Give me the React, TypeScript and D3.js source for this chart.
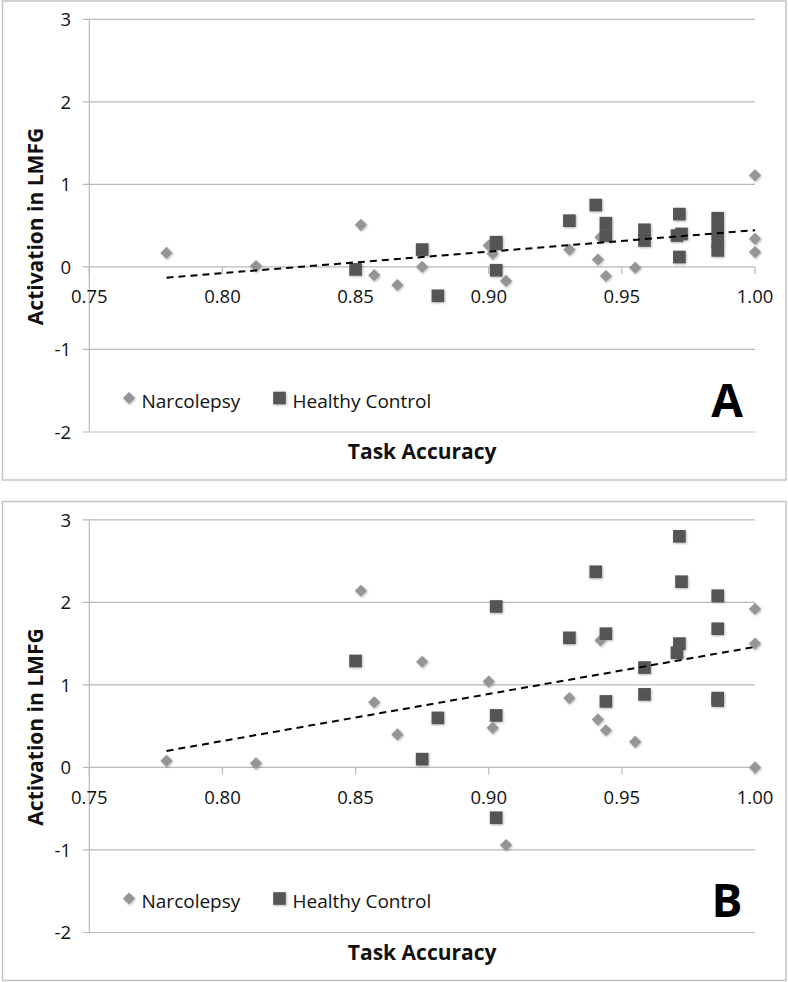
import React from "react";
import * as d3 from "d3";

// Task accuracy (shared by both panels)
const narcX = [0.779, 0.8126, 0.852, 0.857, 0.8657, 0.875, 0.9, 0.9015, 0.9065, 0.9303, 0.941, 0.942, 0.944, 0.955, 1.0, 1.0, 1.0];
const ctrlX = [0.85, 0.875, 0.8809, 0.9028, 0.9028, 0.9028, 0.9303, 0.9402, 0.944, 0.944, 0.9585, 0.9585, 0.9716, 0.9724, 0.9707, 0.9716, 0.986, 0.986, 0.986, 0.986];

// Panel A activation
const narcA = [0.17, 0.01, 0.51, -0.1, -0.22, 0.0, 0.26, 0.16, -0.17, 0.21, 0.09, 0.36, -0.11, -0.01, 1.11, 0.34, 0.18];
const ctrlA = [-0.03, 0.21, -0.35, 0.3, 0.28, -0.04, 0.56, 0.75, 0.53, 0.38, 0.45, 0.32, 0.64, 0.4, 0.38, 0.12, 0.59, 0.45, 0.3, 0.2];

// Panel B activation
const narcB = [0.08, 0.05, 2.14, 0.79, 0.4, 1.28, 1.04, 0.48, -0.94, 0.84, 0.58, 1.54, 0.45, 0.31, 1.92, 1.5, 0.0];
const ctrlB = [1.29, 0.1, 0.6, 1.95, 0.63, -0.61, 1.57, 2.37, 1.62, 0.8, 1.21, 0.885, 2.8, 2.25, 1.39, 1.5, 2.08, 1.68, 0.84, 0.81];

// Trend lines (endpoints)
const trendX = [0.779, 1.0];
const trendA = [-0.13, 0.445];
const trendB = [0.2, 1.46];

const xTicks = [0.75, 0.8, 0.85, 0.9, 0.95, 1.0];
const yTicks = [-2, -1, 0, 1, 2, 3];
const seriesNames = ["Narcolepsy", "Healthy Control"];
const panelLetters = ["A", "B"];
const xTitle = "Task Accuracy";
const yTitle = "Activation in LMFG";

const FONT = "'Open Sans', sans-serif";
const NARC_COLOR = "#959595";
const CTRL_COLOR = "#545454";
const GRID = "#b9b9b9";

const diamondPath = d3.symbol().type(d3.symbolSquare).size(74)() as string;
const squarePath = d3.symbol().type(d3.symbolSquare).size(160)() as string;

const x = d3.scaleLinear().domain([0.75, 1.0]).range([89.3, 755]);

function Panel({ top, narc, ctrl, trend, letter }: { top: number; narc: number[]; ctrl: number[]; trend: number[]; letter: string }) {
  const y = d3.scaleLinear().domain([-2, 3]).range([top + 431, top + 18.3]);
  const line = d3
    .line<[number, number]>()
    .x((d) => x(d[0]))
    .y((d) => y(d[1]));
  const trendPts: [number, number][] = trendX.map((v, i) => [v, trend[i]]);
  const [xl, xr] = x.range();
  return (
    <g>
      <rect x={2.5} y={top} width={783.5} height={479} fill="#fff" stroke="#c4c4c4" strokeWidth={1.5} />
      {/* gridlines + y ticks */}
      {yTicks.map((t) => (
        <g key={t}>
          <line x1={xl - 6.5} x2={xr} y1={y(t)} y2={y(t)} stroke={GRID} strokeWidth={1.2} />
          <text x={71} y={y(t) + 6.7} textAnchor="end" fontFamily={FONT} fontSize={18.5} fill="#111">
            {t}
          </text>
        </g>
      ))}
      {/* y axis */}
      <line x1={xl} x2={xl} y1={y(3)} y2={y(-2)} stroke={GRID} strokeWidth={1.2} />
      {/* x ticks at y=0 */}
      {xTicks.map((t) => (
        <g key={t}>
          <line x1={x(t)} x2={x(t)} y1={y(0)} y2={y(0) + 7} stroke={GRID} strokeWidth={1.2} />
          <text x={x(t)} y={y(0) + 36.5} textAnchor="middle" fontFamily={FONT} fontSize={18.5} fill="#111">
            {t.toFixed(2)}
          </text>
        </g>
      ))}
      {/* points */}
      <g filter="url(#shadow)">
        {narc.map((v, i) => (
          <path key={"n" + i} d={diamondPath} transform={`translate(${x(narcX[i])},${y(v)}) rotate(45)`} fill={NARC_COLOR} />
        ))}
        {ctrl.map((v, i) => (
          <path key={"c" + i} d={squarePath} transform={`translate(${x(ctrlX[i])},${y(v)})`} fill={CTRL_COLOR} />
        ))}
      </g>
      {/* trend */}
      <path d={line(trendPts) as string} fill="none" stroke="#000" strokeWidth={2} strokeDasharray="7,5" />
      {/* legend */}
      <g filter="url(#shadow)">
        <path d={diamondPath} transform={`translate(129,${top + 397}) rotate(45)`} fill={NARC_COLOR} />
        <path d={squarePath} transform={`translate(279.5,${top + 397})`} fill={CTRL_COLOR} />
      </g>
      <text x={141.5} y={top + 406.5} fontFamily={FONT} fontSize={19} fill="#111">
        {seriesNames[0]}
      </text>
      <text x={292.5} y={top + 406.5} fontFamily={FONT} fontSize={19} fill="#111">
        {seriesNames[1]}
      </text>
      {/* letter */}
      <text x={727} y={top + 415.5} textAnchor="middle" fontFamily={FONT} fontWeight={700} fontSize={46} fill="#000">
        {letter}
      </text>
      {/* axis titles */}
      <text x={(xl + xr) / 2} y={top + 458} textAnchor="middle" fontFamily={FONT} fontWeight={700} fontSize={21} fill="#111">
        {xTitle}
      </text>
      <text
        transform={`translate(43,${top + 225.5}) rotate(-90)`}
        textAnchor="middle"
        fontFamily={FONT}
        fontWeight={700}
        fontSize={21}
        fill="#111"
      >
        {yTitle}
      </text>
    </g>
  );
}

export default function App() {
  return (
    <svg width={788} height={982} style={{ position: "absolute", left: 0, top: 0 }}>
      <defs>
        <filter id="shadow" x="-50%" y="-50%" width="200%" height="200%">
          <feDropShadow dx={0.8} dy={1} stdDeviation={0.9} floodColor="#000" floodOpacity={0.3} />
        </filter>
      </defs>
      <rect width={788} height={982} fill="#fff" />
      <Panel top={1} narc={narcA} ctrl={ctrlA} trend={trendA} letter={panelLetters[0]} />
      <Panel top={501.5} narc={narcB} ctrl={ctrlB} trend={trendB} letter={panelLetters[1]} />
    </svg>
  );
}
